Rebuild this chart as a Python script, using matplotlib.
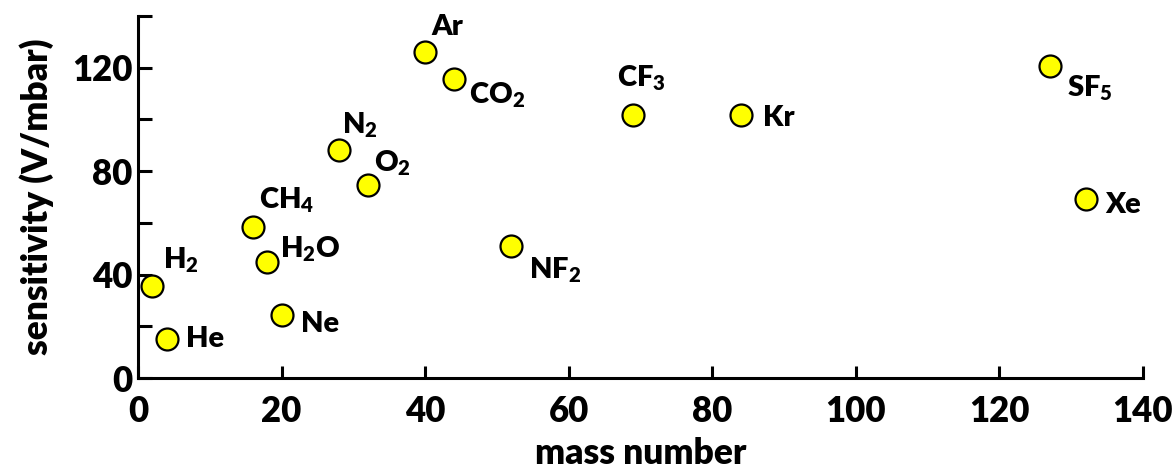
import matplotlib
matplotlib.use("Agg")
import matplotlib.pyplot as plt
from matplotlib.ticker import MultipleLocator

W = 'heavy'
plt.rcParams['font.family'] = ['Lato', 'DejaVu Sans']
plt.rcParams['font.weight'] = W
plt.rcParams['mathtext.fontset'] = 'custom'
plt.rcParams['mathtext.rm'] = 'Lato:' + W
plt.rcParams['mathtext.bf'] = 'Lato:' + W
plt.rcParams['mathtext.it'] = 'Lato:' + W
plt.rcParams['mathtext.default'] = 'bf'

species = ['H$_2$', 'He', 'CH$_4$', 'H$_2$O', 'Ne', 'N$_2$', 'O$_2$', 'Ar', 'CO$_2$',
           'NF$_2$', 'CF$_3$', 'Kr', 'SF$_5$', 'Xe']
mass = [2, 4, 16, 18, 20, 28, 32, 40, 44, 52, 69, 84, 127, 132]
sensitivity = [35.6, 15.1, 58.5, 45.0, 24.4, 88.0, 74.8, 126.0, 115.8, 51.0, 101.8, 101.8, 120.8, 69.3]
# label offsets in pixels (dx, dy)
label_dx = [11, 19, 6, 13, 19, 3, 6, 6, 15, 18, -16, 22, 17, 20]
label_dy = [17, -8, 18, 4, -17, 17, 13, 17, -25, -32, 28, -11, -31, -14]

fig = plt.figure(figsize=(11.75, 4.71), dpi=100)
ax = fig.add_axes([138/1175, 93/471, (1143-138)/1175, (378-16)/471])

ax.scatter(mass, sensitivity, s=250, c='#FFFF00', edgecolors='black', linewidths=1.6, zorder=3, clip_on=False)
for name, x, y, dx, dy in zip(species, mass, sensitivity, label_dx, label_dy):
    ax.annotate(name, (x, y), xytext=(dx, dy), textcoords='offset pixels',
                ha='left', va='baseline', fontsize=21, fontweight=W)

ax.set_xlim(0, 140)
ax.set_ylim(0, 140)
ax.xaxis.set_major_locator(MultipleLocator(20))
for s in ['top', 'right']:
    ax.spines[s].set_visible(False)
for s in ['left', 'bottom']:
    ax.spines[s].set_linewidth(2.2)
ax.tick_params(axis='both', which='both', direction='in', width=2.2, labelsize=25)
ax.tick_params(axis='x', which='major', length=8.5, pad=12)
ax.tick_params(axis='y', which='both', length=10, pad=4)
ax.set_yticks([0, 40, 80, 120])
ax.set_yticks([20, 60, 100, 140], minor=True)
for lab in ax.get_xticklabels() + ax.get_yticklabels():
    lab.set_fontweight(W)

ax.set_xlabel('mass number', fontsize=25.5, fontweight=W)
ax.set_ylabel('sensitivity (V/mbar)', fontsize=25.5, fontweight=W)
ax.xaxis.label.set_va('baseline')
ax.xaxis.set_label_coords(0.5, -0.238)
ax.yaxis.label.set_va('center')
ax.yaxis.set_label_coords(-0.101, 0.5)

fig.savefig('out.png', dpi=100)
